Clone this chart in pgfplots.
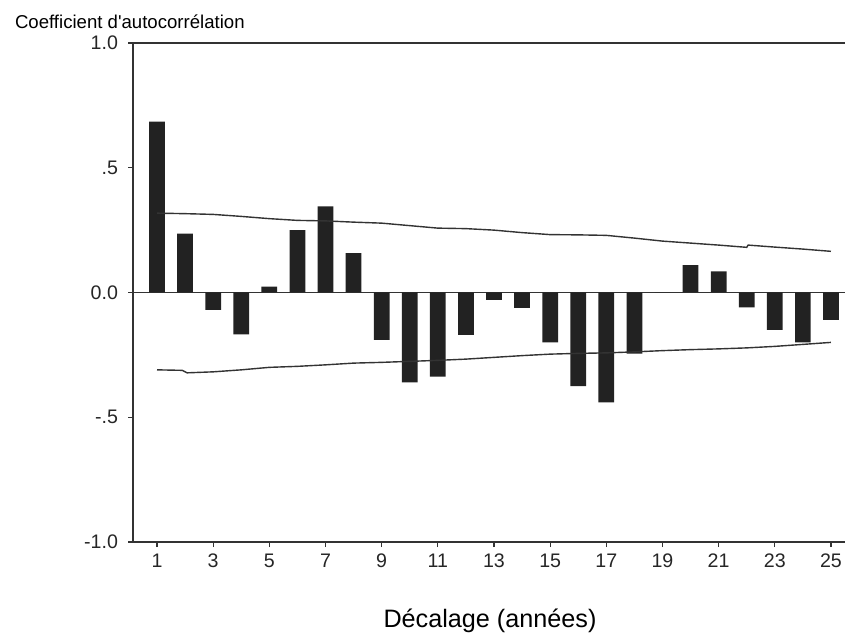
\documentclass[border=0pt]{standalone}
\usepackage{pgfplots}
\pgfplotsset{compat=1.18}
\usepackage{fontspec}
\setmainfont{Liberation Sans}
\definecolor{barc}{HTML}{222222}
\definecolor{linec}{HTML}{333333}
\begin{document}
\begin{tikzpicture}
\useasboundingbox (0,0) rectangle (422.5pt,-317.5pt);
\begin{axis}[
  scale only axis,
  width=356pt, height=249.5pt,
  at={(66.5pt,-271pt)}, anchor=south west,
  xmin=0.145, xmax=25.5,
  ymin=-1, ymax=1,
  axis lines*=left,
  axis line style={linec, line width=0.7pt},
  tick align=outside,
  major tick length=2.5pt,
  tick style={linec, line width=0.6pt},
  xtick={1,3,...,25},
  ytick={-1,-0.5,0,0.5,1},
  yticklabels={-1.0,-.5,0.0,.5,1.0},
  /pgf/number format/assume math mode=true,
  ticklabel style={font=\fontsize{9.8pt}{11pt}\selectfont, text=black!85},
  xticklabel style={anchor=north, text height=7pt, text depth=0pt, yshift=0.2pt},
  yticklabel style={xshift=-1.5pt},
  every axis y label/.style={at={(rel axis cs:-0.1756,1.042)}, anchor=west, font=\fontsize{9.3pt}{11pt}\selectfont},
  every axis x label/.style={at={(rel axis cs:0.5014,-0.1723)}, anchor=base, font=\fontsize{12.6pt}{14pt}\selectfont},
  ylabel={Coefficient d\textquotesingle autocorrélation},
  xlabel={Décalage (années)},
  clip=false,
]
\draw[linec, line width=0.7pt] (rel axis cs:0,1) -- (rel axis cs:1,1);
\addplot[linec, line width=0.6pt] coordinates {(0.145,0) (25.5,0)};
\addplot[ybar, bar width=0.56, fill=barc, draw=none] coordinates {
(1,0.685) (2,0.236) (3,-0.07) (4,-0.168) (5,0.024) (6,0.25) (7,0.345) (8,0.158)
(9,-0.19) (10,-0.36) (11,-0.337) (12,-0.17) (13,-0.03) (14,-0.062) (15,-0.2)
(16,-0.375) (17,-0.44) (18,-0.245) (19,0.0) (20,0.11) (21,0.085) (22,-0.06)
(23,-0.15) (24,-0.2) (25,-0.11)};
\addplot[linec, line width=0.7pt] coordinates {
(1,0.318) (2,0.316) (3,0.313) (4,0.305) (5,0.296) (6,0.289) (7,0.287) (8,0.282)
(9,0.278) (10,0.268) (11,0.258) (12,0.256) (13,0.250) (14,0.24) (15,0.232)
(16,0.231) (17,0.229) (18,0.218) (19,0.206) (20,0.198) (21,0.19) (22,0.181)
(22.05,0.19) (23,0.182) (24,0.174) (25,0.165)};
\addplot[linec, line width=0.7pt] coordinates {
(1,-0.31) (1.9,-0.312) (2.07,-0.322) (3,-0.318) (4,-0.31) (5,-0.3) (6,-0.296)
(7,-0.29) (8,-0.283) (9,-0.28) (10,-0.276) (11,-0.272) (12,-0.267) (13,-0.26)
(14,-0.253) (15,-0.247) (16,-0.244) (17,-0.242) (18,-0.238) (19,-0.233)
(20,-0.229) (21,-0.226) (22,-0.222) (23,-0.216) (24,-0.208) (25,-0.2)};
\end{axis}
\end{tikzpicture}
\end{document}
